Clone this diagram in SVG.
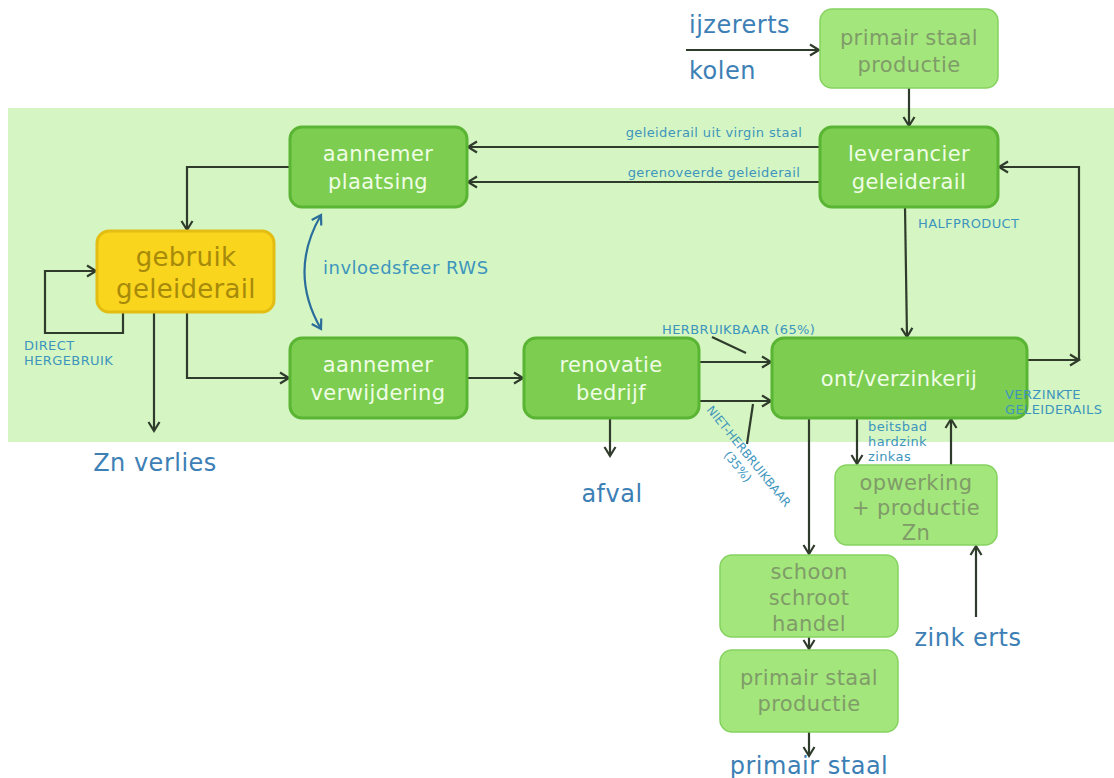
<svg xmlns="http://www.w3.org/2000/svg" width="1114" height="778" viewBox="0 0 1114 778">
<style>
.dark rect{fill:#7dcd50;stroke:#5ab534;stroke-width:3}
.dark text{fill:#effde6}
.light rect{fill:#a3e67c;stroke:#86d260;stroke-width:1.5}
.light text{fill:#7f9c68}
.yellow rect{fill:#fad51e;stroke:#e3bd12;stroke-width:3}
.yellow text{fill:#a88a0a}
.node text{font-family:"DejaVu Sans",Verdana,sans-serif;font-size:21px;letter-spacing:0.4px;text-anchor:middle}
.big{font-family:"DejaVu Sans",Verdana,sans-serif;font-size:24px;letter-spacing:0.5px;fill:#3d80b5}
.small{font-family:"DejaVu Sans",Verdana,sans-serif;font-size:13px;letter-spacing:0.4px;fill:#3d95bd}
.c path,.c line{fill:none;stroke:#2f3b2b;stroke-width:2.2}
.lead{stroke:#7aa6a8;stroke-width:0.8;fill:none}
</style>
<defs>
<marker id="a" markerWidth="14" markerHeight="14" refX="11" refY="7" orient="auto" markerUnits="userSpaceOnUse">
<path d="M2,1.5 L11,7 L2,12.5" fill="none" stroke="#2f3b2b" stroke-width="2.2"/>
</marker>
<marker id="b" markerWidth="14" markerHeight="14" refX="11" refY="7" orient="auto-start-reverse" markerUnits="userSpaceOnUse">
<path d="M2,1.5 L11,7 L2,12.5" fill="none" stroke="#2b6e9c" stroke-width="2.2"/>
</marker>
</defs>
<rect x="0" y="0" width="1114" height="778" fill="#ffffff"/>
<rect x="8" y="108" width="1106" height="334" fill="#d5f5c2"/>

<g class="c">
<line x1="686" y1="50" x2="819" y2="50" marker-end="url(#a)"/>
<line x1="909" y1="88" x2="909" y2="126" marker-end="url(#a)"/>
<line x1="820" y1="147" x2="468" y2="147" marker-end="url(#a)"/>
<line x1="820" y1="182" x2="468" y2="182" marker-end="url(#a)"/>
<path d="M290,167 H187 V230" marker-end="url(#a)"/>
<path d="M123,312 V333 H45 V271 H96" marker-end="url(#a)"/>
<line x1="154" y1="312" x2="154" y2="431" marker-end="url(#a)"/>
<path d="M187,312 V378 H289" marker-end="url(#a)"/>
<line x1="467" y1="378" x2="523" y2="378" marker-end="url(#a)"/>
<line x1="699" y1="362" x2="771" y2="362" marker-end="url(#a)"/>
<line x1="699" y1="401" x2="771" y2="401" marker-end="url(#a)"/>
<line x1="610" y1="418" x2="610" y2="456" marker-end="url(#a)"/>
<line x1="905" y1="207" x2="907" y2="337" marker-end="url(#a)"/>
<line x1="1027" y1="360" x2="1079" y2="360" marker-end="url(#a)"/>
<path d="M1079,360 V167 H999" marker-end="url(#a)"/>
<line x1="857" y1="418" x2="857" y2="464" marker-end="url(#a)"/>
<line x1="951" y1="465" x2="951" y2="419" marker-end="url(#a)"/>
<line x1="809" y1="418" x2="809" y2="554" marker-end="url(#a)"/>
<line x1="809" y1="637" x2="809" y2="649" marker-end="url(#a)"/>
<line x1="809" y1="732" x2="809" y2="756" marker-end="url(#a)"/>
<line x1="976" y1="617" x2="976" y2="546" marker-end="url(#a)"/>
<path d="M321,215 Q288,272 321,329" style="stroke:#2b6e9c" marker-start="url(#b)" marker-end="url(#b)"/>
<line class="lead" x1="712" y1="337" x2="746" y2="353"/>
<line class="lead" x1="753" y1="404" x2="747" y2="444"/>
</g>

<g id="primair1" class="node light"><rect x="820" y="9" width="178" height="79" rx="12"/><text x="909" y="45">primair staal</text><text x="909" y="72">productie</text></g>
<g id="leverancier" class="node dark"><rect x="820" y="127" width="178" height="80" rx="12"/><text x="909" y="161">leverancier</text><text x="909" y="189">geleiderail</text></g>
<g id="plaatsing" class="node dark"><rect x="290" y="127" width="177" height="80" rx="12"/><text x="378" y="161">aannemer</text><text x="378" y="189">plaatsing</text></g>
<g id="gebruik" class="node yellow"><rect x="97" y="231" width="177" height="81" rx="12"/><text x="186" y="266" style="font-size:26px;letter-spacing:0.3px">gebruik</text><text x="186" y="298" style="font-size:26px;letter-spacing:0.3px">geleiderail</text></g>
<g id="verwijdering" class="node dark"><rect x="290" y="338" width="177" height="80" rx="12"/><text x="378" y="372">aannemer</text><text x="378" y="400">verwijdering</text></g>
<g id="renovatie" class="node dark"><rect x="524" y="338" width="175" height="80" rx="12"/><text x="611" y="372">renovatie</text><text x="611" y="400">bedrijf</text></g>
<g id="verzinkerij" class="node dark"><rect x="772" y="338" width="255" height="80" rx="12"/><text x="899" y="386">ont/verzinkerij</text></g>
<g id="opwerking" class="node light"><rect x="835" y="465" width="162" height="80" rx="12"/><text x="916" y="490">opwerking</text><text x="916" y="515">+ productie</text><text x="916" y="540">Zn</text></g>
<g id="schroot" class="node light"><rect x="720" y="555" width="178" height="82" rx="12"/><text x="809" y="579">schoon</text><text x="809" y="605">schroot</text><text x="809" y="631">handel</text></g>
<g id="primair2" class="node light"><rect x="720" y="650" width="178" height="82" rx="12"/><text x="809" y="685">primair staal</text><text x="809" y="711">productie</text></g>

<g id="labels">
<text class="big" x="689" y="33">ijzererts</text>
<text class="big" x="689" y="79">kolen</text>
<text class="big" x="155" y="471" text-anchor="middle">Zn verlies</text>
<text class="big" x="612" y="502" text-anchor="middle">afval</text>
<text class="big" x="809" y="774" text-anchor="middle">primair staal</text>
<text class="big" x="968" y="646" text-anchor="middle">zink erts</text>
<text x="323" y="274" style="font-family:'DejaVu Sans',Verdana,sans-serif;font-size:18px;letter-spacing:0.5px;fill:#3d95bd">invloedsfeer RWS</text>
<text class="small" x="714" y="137" text-anchor="middle">geleiderail uit virgin staal</text>
<text class="small" x="714" y="177" text-anchor="middle">gerenoveerde geleiderail</text>
<text class="small" x="918" y="228">HALFPRODUCT</text>
<text class="small" x="24" y="350">DIRECT</text>
<text class="small" x="24" y="365">HERGEBRUIK</text>
<text class="small" x="662" y="334">HERBRUIKBAAR (65%)</text>
<text class="small" x="1005" y="399">VERZINKTE</text>
<text class="small" x="1005" y="414">GELEIDERAILS</text>
<text class="small" x="868" y="431">beitsbad</text>
<text class="small" x="868" y="446">hardzink</text>
<text class="small" x="868" y="461">zinkas</text>
<g transform="rotate(51 706 410)"><text class="small" x="706" y="410" style="font-size:12px;letter-spacing:0">NIET-HERBRUIKBAAR</text><text class="small" x="770" y="425" text-anchor="middle" style="font-size:12px;letter-spacing:0">(35%)</text></g>
</g>
</svg>
